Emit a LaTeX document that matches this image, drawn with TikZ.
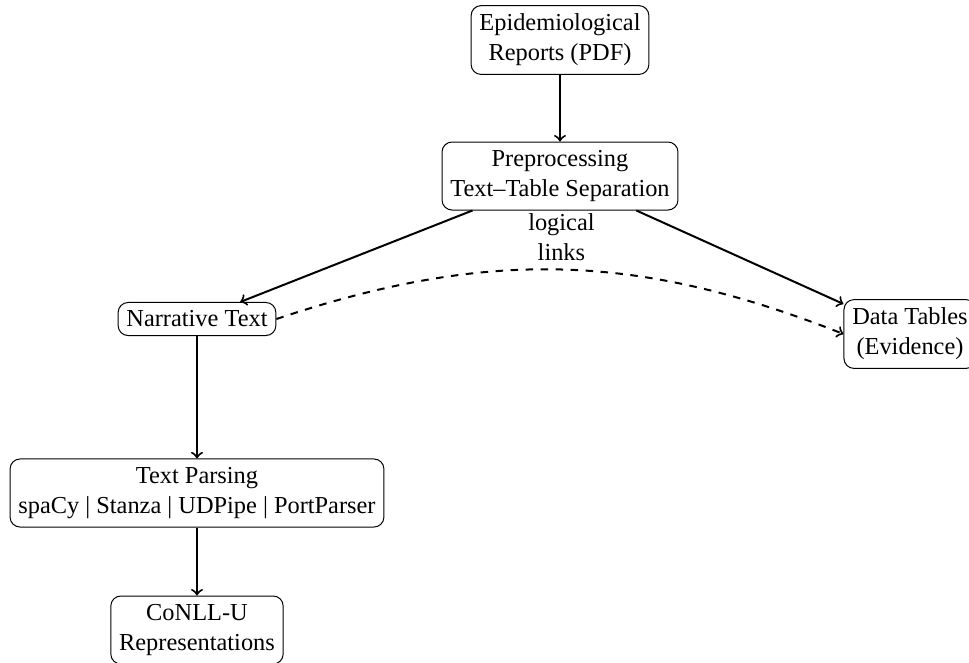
\documentclass[tikz,border=0pt]{standalone}
\usepackage{fontspec}
\setmainfont{Liberation Serif}
\begin{document}
\begin{tikzpicture}[x=0.4pt, y=-0.4pt,
  box/.style={draw, rounded corners=4pt, align=center, font=\fontsize{9.75}{12}\selectfont},
  arr/.style={->, thick}]
\useasboundingbox (0,0) rectangle (969,662);
\node[box] (epi) at (560,40) {Epidemiological\\Reports (PDF)};
\node[box] (prep) at (560,176) {Preprocessing\\Text--Table Separation};
\node[box] (narr) at (197,319) {Narrative Text};
\node[box] (data) at (910,334) {Data Tables\\(Evidence)};
\node[box] (parse) at (197,493) {Text Parsing\\spaCy | Stanza | UDPipe | PortParser};
\node[box] (conll) at (197,630) {CoNLL-U\\Representations};
\draw[arr] (epi) -- (prep);
\draw[arr] (prep) -- (narr);
\draw[arr] (prep) -- (data);
\draw[arr] (narr) -- (parse);
\draw[arr] (parse) -- (conll);
\draw[arr, dashed] (narr.east) to[bend left=20] node[midway, above, align=center, font=\fontsize{9.75}{12}\selectfont] {logical\\links} (data.west);
\end{tikzpicture}
\end{document}
